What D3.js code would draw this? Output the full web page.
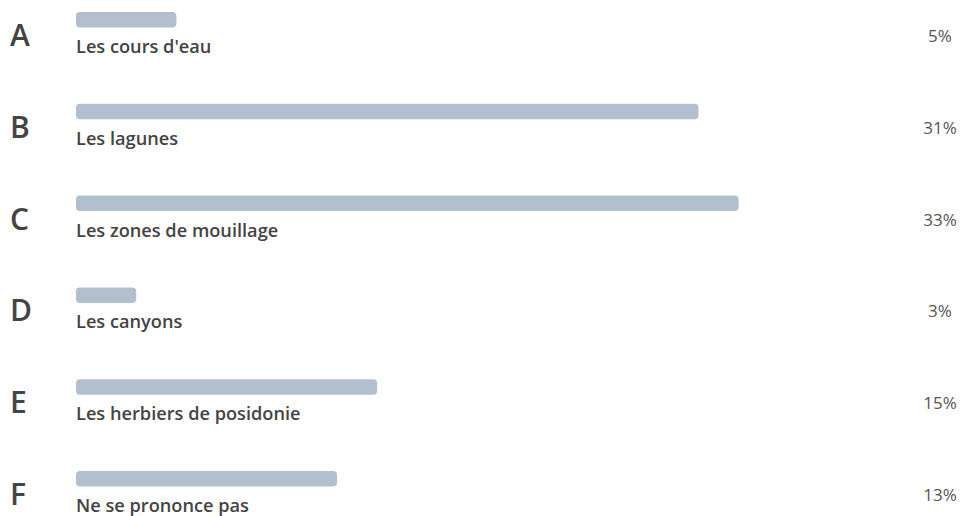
<!DOCTYPE html>
<html><head><meta charset="utf-8">
<script src="https://cdn.jsdelivr.net/npm/d3@7"></script>
<style>html,body{margin:0;padding:0;background:#fff;}svg{display:block;}</style>
</head><body>
<svg id="chart" width="963" height="516"></svg>
<script>
const letters = ["A","B","C","D","E","F"];
const labels = ["Les cours d'eau","Les lagunes","Les zones de mouillage","Les canyons","Les herbiers de posidonie","Ne se prononce pas"];
const values = [5,31,33,3,15,13];

const svg = d3.select("#chart");
const x = d3.scaleLinear().domain([0, 44]).range([76, 76 + 44*20.08]);
const y = d3.scaleBand().domain(letters).range([12, 12 + 6*91.8]).paddingInner(0).paddingOuter(0);

const row = svg.selectAll("g.row").data(letters).join("g").attr("class","row")
  .attr("transform", d => `translate(0,${y(d)})`);

row.append("rect")
  .attr("x", x(0)).attr("y", 0)
  .attr("width", (d,i) => x(values[i]) - x(0))
  .attr("height", 15.5).attr("rx", 4).attr("ry", 4)
  .attr("fill", "#b2bfcf");

row.append("text")
  .attr("x", 10).attr("y", 34)
  .attr("font-family", "'Open Sans', sans-serif").attr("font-weight", 600)
  .attr("font-size", 30).attr("fill", "#444")
  .text(d => d);

row.append("text")
  .attr("x", 76).attr("y", 41)
  .attr("font-family", "'Open Sans', sans-serif").attr("font-weight", 600)
  .attr("font-size", 18.2).attr("fill", "#444")
  .text((d,i) => labels[i]);

row.append("text")
  .attr("x", 940).attr("y", 30).attr("text-anchor", "middle")
  .attr("font-family", "'Open Sans', sans-serif").attr("font-weight", 400)
  .attr("font-size", 17).attr("fill", "#555")
  .text((d,i) => values[i] + "%");
</script>
</body></html>
